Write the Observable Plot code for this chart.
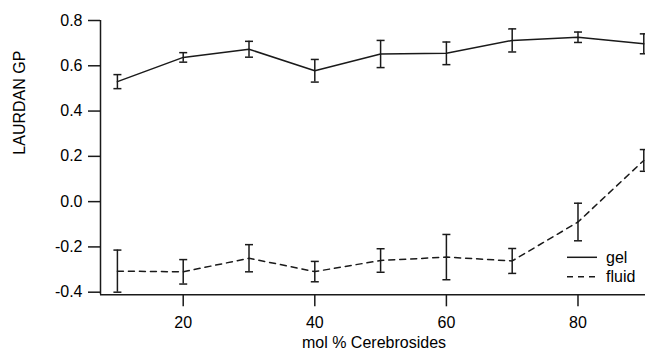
<!DOCTYPE html>
<html>
<head>
<meta charset="utf-8">
<script src="https://cdn.jsdelivr.net/npm/d3@7"></script>
<script src="https://cdn.jsdelivr.net/npm/@observablehq/plot@0.6"></script>
<style>
  html, body { margin: 0; padding: 0; background: #fff; }
  #chart svg { display: block; }
</style>
</head>
<body>
<div id="chart"></div>
<script>
// ---- data ----
const molPercent = [10, 20, 30, 40, 50, 60, 70, 80, 90];
const gelGP    = [0.530, 0.637, 0.673, 0.578, 0.652, 0.655, 0.712, 0.726, 0.697];
const gelErr   = [0.031, 0.021, 0.035, 0.050, 0.060, 0.050, 0.051, 0.023, 0.044];
const fluidGP  = [-0.307, -0.310, -0.250, -0.309, -0.260, -0.245, -0.262, -0.090, 0.182];
const fluidErr = [0.093, 0.054, 0.060, 0.045, 0.052, 0.100, 0.055, 0.083, 0.048];
const xTicks = [20, 40, 60, 80];
const yTicks = [-0.4, -0.2, 0.0, 0.2, 0.4, 0.6, 0.8];
const seriesNames = ["gel", "fluid"];
const xLabel = "mol % Cerebrosides";
const yLabel = "LAURDAN GP";

const xDomain = [7.43, 90.26];
const yDomain = [-0.4115, 0.8];

const gel = molPercent.map((x, i) => ({x, y: gelGP[i], e: gelErr[i], s: "gel"}));
const fluid = molPercent.map((x, i) => ({x, y: fluidGP[i], e: fluidErr[i], s: "fluid"}));
const all = gel.concat(fluid);
const caps = all.flatMap(d => [{x: d.x, y: d.y - d.e}, {x: d.x, y: d.y + d.e}]);

const ink = "#1a1a1a";
const font = "'Liberation Sans', Arial, Helvetica, sans-serif";

// horizontal cap symbol for error bars
const capSymbol = {
  draw(context, size) {
    const r = Math.sqrt(size / Math.PI);
    context.moveTo(-r, 0);
    context.lineTo(r, 0);
  }
};

const chart = Plot.plot({
  width: 645,
  height: 353,
  marginLeft: 100,
  marginRight: 0,
  marginTop: 20,
  marginBottom: 58.7,
  style: {fontFamily: font, fontSize: "16px", color: "#000", background: "#fff"},
  x: {domain: xDomain},
  y: {domain: yDomain},
  marks: [
    Plot.axisY({ticks: yTicks, tickSize: 12, tickPadding: 6, tickFormat: d => d.toFixed(1), label: null, stroke: ink, strokeWidth: 1.5, fontSize: 16}),
    Plot.axisX({ticks: xTicks, tickSize: 12, tickPadding: 10, tickFormat: d => String(d), label: null, stroke: ink, strokeWidth: 1.5, fontSize: 16}),
    Plot.ruleX([xDomain[0]], {stroke: ink, strokeWidth: 1.5}),
    Plot.ruleY([yDomain[0]], {stroke: ink, strokeWidth: 1.5}),
    Plot.line(gel, {x: "x", y: "y", stroke: ink, strokeWidth: 1.5}),
    Plot.line(fluid, {x: "x", y: "y", stroke: ink, strokeWidth: 1.5, strokeDasharray: "6,5"}),
    Plot.ruleX(all, {x: "x", y1: d => d.y - d.e, y2: d => d.y + d.e, stroke: ink, strokeWidth: 1.5}),
    Plot.dot(caps, {x: "x", y: "y", symbol: capSymbol, r: 4, stroke: ink, strokeWidth: 1.5, fill: "none"}),
    Plot.text([xLabel], {frameAnchor: "bottom", dx: 1, dy: 48, fill: "#000", fontSize: 16, lineAnchor: "middle"}),
    Plot.text([yLabel], {frameAnchor: "left", dx: -81, dy: -3, rotate: -90, fill: "#000", fontSize: 16})
  ]
});

// legend (drawn inside the plot area, lower right)
const svg = d3.select(chart);
const legend = svg.append("g")
  .attr("font-family", font).attr("font-size", 16).attr("text-anchor", "start");
seriesNames.forEach((name, i) => {
  const y = 257.3 + i * 19.4;
  legend.append("line")
    .attr("x1", 567).attr("x2", 597).attr("y1", y).attr("y2", y)
    .attr("stroke", ink).attr("stroke-width", 1.5)
    .attr("stroke-dasharray", name === "fluid" ? "6,5" : null);
  legend.append("text")
    .attr("x", 606).attr("y", y).attr("dy", "0.35em")
    .attr("fill", "#000").text(name);
});

document.getElementById("chart").appendChild(chart);
</script>
</body>
</html>
